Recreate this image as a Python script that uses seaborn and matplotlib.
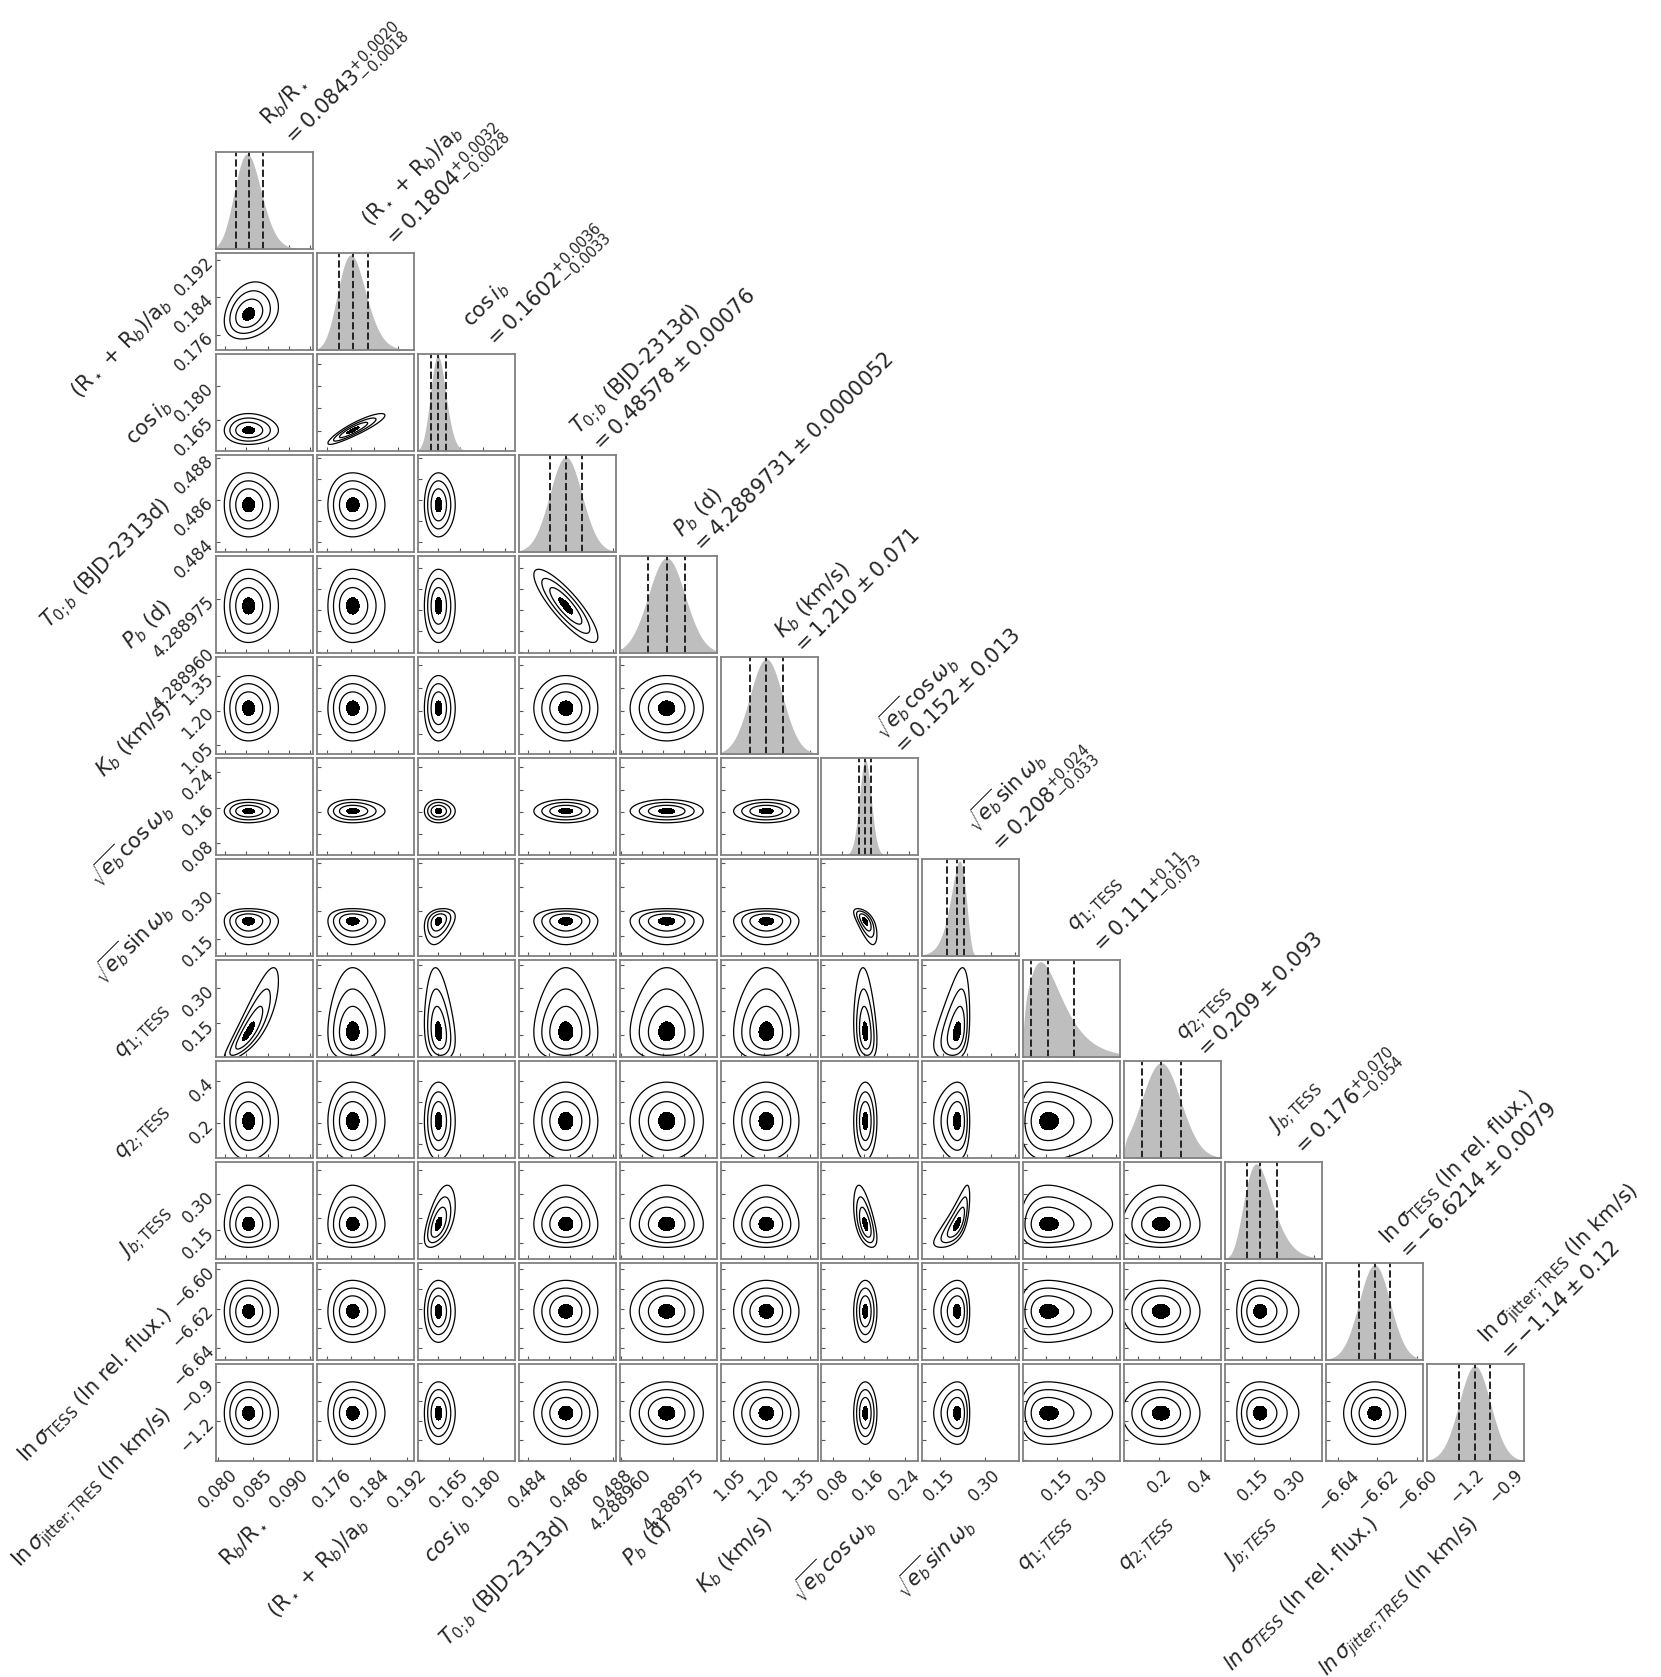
import numpy as np
import matplotlib
matplotlib.use("Agg")
import matplotlib.pyplot as plt
import seaborn as sns
from matplotlib.ticker import FixedLocator, FixedFormatter, MaxNLocator, NullFormatter, NullLocator

sns.set_style("ticks")
plt.rcParams["font.family"] = ["DejaVu Sans"]
plt.rcParams["mathtext.fontset"] = "dejavusans"

# parameter names (titles / y labels)
names = [
    r"R$_b$/R$_\star$",
    r"(R$_\star$ + R$_b$)/a$_b$",
    r"$\cos{i_b}$",
    r"$T_{0;b}$ (BJD-2313d)",
    r"$P_b$ (d)",
    r"$K_b$ (km/s)",
    r"$\sqrt{e_b} \cos{\omega_b}$",
    r"$\sqrt{e_b} \sin{\omega_b}$",
    r"$q_{1; \mathrm{TESS}}$",
    r"$q_{2; \mathrm{TESS}}$",
    r"$J_{b; \mathrm{TESS}}$",
    r"$\ln{\sigma_\mathrm{TESS}}$ (ln rel. flux.)",
    r"$\ln{\sigma_\mathrm{jitter; TRES}}$ (ln km/s)",
]

# posterior medians and 1-sigma errors as printed above each column
med_txt = ["0.0843", "0.1804", "0.1602", "0.48578", "4.2889731", "1.210", "0.152",
           "0.208", "0.111", "0.209", "0.176", "-6.6214", "-1.14"]
up_txt = ["0.0020", "0.0032", "0.0036", "0.00076", "0.0000052", "0.071", "0.013",
          "0.024", "0.11", "0.093", "0.070", "0.0079", "0.12"]
lo_txt = ["0.0018", "0.0028", "0.0033", "0.00076", "0.0000052", "0.071", "0.013",
          "0.033", "0.073", "0.093", "0.054", "0.0079", "0.12"]

# pairwise correlations (row, col): rho
rho_pairs = {(1, 0): 0.25, (2, 1): 0.9, (4, 3): -0.85, (7, 6): -0.65, (7, 2): 0.3,
             (8, 0): 0.85, (8, 2): -0.2, (8, 6): -0.2, (8, 7): 0.35,
             (10, 2): 0.55, (10, 6): -0.55, (10, 7): 0.75}

# axis ranges
lims = [(0.0797, 0.0934), (0.1728, 0.1934), (0.1509, 0.1945), (0.48354, 0.48815),
        (4.2889597, 4.2889873), (1.011, 1.433), (0.0538, 0.271), (0.0917, 0.415),
        (0.004, 0.42), (0.0325, 0.4967), (0.0322, 0.433), (-6.6462, -6.5967),
        (-1.508, -0.762)]

# labelled ticks on the outer panels
ticks = [[0.080, 0.085, 0.090], [0.176, 0.184, 0.192], [0.165, 0.180],
         [0.484, 0.486, 0.488], [4.288960, 4.288975], [1.05, 1.20, 1.35],
         [0.08, 0.16, 0.24], [0.15, 0.30], [0.15, 0.30], [0.2, 0.4], [0.15, 0.30],
         [-6.64, -6.62, -6.60], [-1.2, -0.9]]
tick_txt = [["0.080", "0.085", "0.090"], ["0.176", "0.184", "0.192"], ["0.165", "0.180"],
            ["0.484", "0.486", "0.488"], ["4.288960", "4.288975"], ["1.05", "1.20", "1.35"],
            ["0.08", "0.16", "0.24"], ["0.15", "0.30"], ["0.15", "0.30"], ["0.2", "0.4"],
            ["0.15", "0.30"], ["\u22126.64", "\u22126.62", "\u22126.60"], ["\u22121.2", "\u22120.9"]]

med = np.array([float(s) for s in med_txt])
up = np.array([float(s) for s in up_txt])
lo = np.array([float(s) for s in lo_txt])
n = len(names)

FS_LABEL = 15
FS_TITLE = 15
FS_TICK = 12
SPINE = "#808080"


def to_u(x, k):
    # map a parameter to a standard normal coordinate (skewed when errors differ)
    m, s_up, s_lo = med[k], up[k], lo[k]
    if np.isclose(s_up, s_lo):
        return (x - m) / s_up, np.full_like(x, s_up)
    kk = np.log(s_up / s_lo)
    A = s_up * kk / np.expm1(kk)
    arg = 1 + kk * (x - m) / A
    ok = arg > 0
    u = np.where(ok, np.log(np.where(ok, arg, 1.0)) / kk, np.nan)
    jac = A * np.exp(kk * np.nan_to_num(u))
    return u, jac


def title_text(k):
    if up_txt[k] == lo_txt[k]:
        line2 = rf"$= {med_txt[k]} \pm {up_txt[k]}$"
    else:
        line2 = rf"$= {med_txt[k]}^{{+{up_txt[k]}}}_{{-{lo_txt[k]}}}$"
    return names[k] + "\n" + line2


def italic_name(s):
    s = s.replace(r"\mathrm", r"\mathit")
    s = s.replace(r"\cos", r"\mathit{cos}\,").replace(r"\sin", r"\mathit{sin}\,")
    s = s.replace(r"\ln", r"\mathit{ln}\,")
    return s


fig, axes = plt.subplots(n, n, figsize=(16.61, 16.77), dpi=100)
fig.subplots_adjust(left=0.130, right=0.9175, bottom=0.1288, top=0.9094,
                    wspace=0.04, hspace=0.04)

for i in range(n):
    for j in range(n):
        ax = axes[i, j]
        if j > i:
            ax.set_visible(False)
            continue

        if i == j:
            xs = np.linspace(lims[j][0], lims[j][1], 800)
            u, jac = to_u(xs, j)
            pdf = np.nan_to_num(np.exp(-0.5 * u ** 2) / jac)
            sns.kdeplot(x=xs, weights=pdf, ax=ax, fill=True, color="#bebebe", alpha=1,
                        linewidth=0, bw_adjust=0.3, cut=0)
            ax.set_ylim(0, ax.dataLim.ymax * 1.02)
            for q in (med[j] - lo[j], med[j], med[j] + up[j]):
                ax.axvline(q, color="#222222", ls="--", lw=1.4)
            ax.yaxis.set_major_locator(NullLocator())
            ax.text(0.85, 0.97, title_text(j), transform=ax.transAxes, rotation=45,
                    ha="left", va="bottom", rotation_mode="anchor", fontsize=FS_TITLE)
        else:
            X = np.linspace(lims[j][0], lims[j][1], 160)
            Y = np.linspace(lims[i][0], lims[i][1], 160)
            ux, _ = to_u(X, j)
            uy, _ = to_u(Y, i)
            UX, UY = np.meshgrid(ux, uy)
            rho = rho_pairs.get((i, j), 0.0)
            r2 = (UX ** 2 - 2 * rho * UX * UY + UY ** 2) / (1 - rho ** 2)
            r2 = np.ma.masked_invalid(r2)
            ax.contourf(X, Y, r2, levels=[0, 0.2], colors="k")
            ax.contour(X, Y, r2, levels=[1.0, 2.25, 4.0], colors="k", linewidths=0.9)
            ax.set_ylim(lims[i])

        ax.set_xlim(lims[j])
        ax.set_xlabel("")
        ax.set_ylabel("")
        for sp in ax.spines.values():
            sp.set_color(SPINE)
            sp.set_linewidth(1.3)
        ax.tick_params(direction="in", length=3, width=0.8, color="#555555",
                       labelsize=FS_TICK, top=False, right=False)

        # x axis
        if i == n - 1:
            ax.xaxis.set_major_locator(FixedLocator(ticks[j]))
            ax.xaxis.set_major_formatter(FixedFormatter(tick_txt[j]))
            ax.tick_params(axis="x", labelrotation=45)
            ax.set_xlabel(italic_name(names[j]), fontsize=FS_LABEL, rotation=45,
                          ha="right", va="center", rotation_mode="anchor")
            ax.xaxis.set_label_coords(0.5, -0.62)
        else:
            ax.xaxis.set_major_locator(MaxNLocator(5))
            ax.xaxis.set_major_formatter(NullFormatter())

        # y axis
        if i != j:
            if j == 0:
                ax.yaxis.set_major_locator(FixedLocator(ticks[i]))
                ax.yaxis.set_major_formatter(FixedFormatter(tick_txt[i]))
                ax.tick_params(axis="y", labelrotation=45)
                for lbl in ax.get_yticklabels():
                    lbl.set_rotation_mode("anchor")
                    lbl.set_ha("right")
                    lbl.set_va("center")
                ax.set_ylabel(names[i], fontsize=FS_LABEL, rotation=45,
                              ha="right", va="center", rotation_mode="anchor")
                ax.yaxis.set_label_coords(-0.49, 0.5)
            else:
                ax.yaxis.set_major_locator(MaxNLocator(5))
                ax.yaxis.set_major_formatter(NullFormatter())

fig.savefig("out.png", dpi=100)
